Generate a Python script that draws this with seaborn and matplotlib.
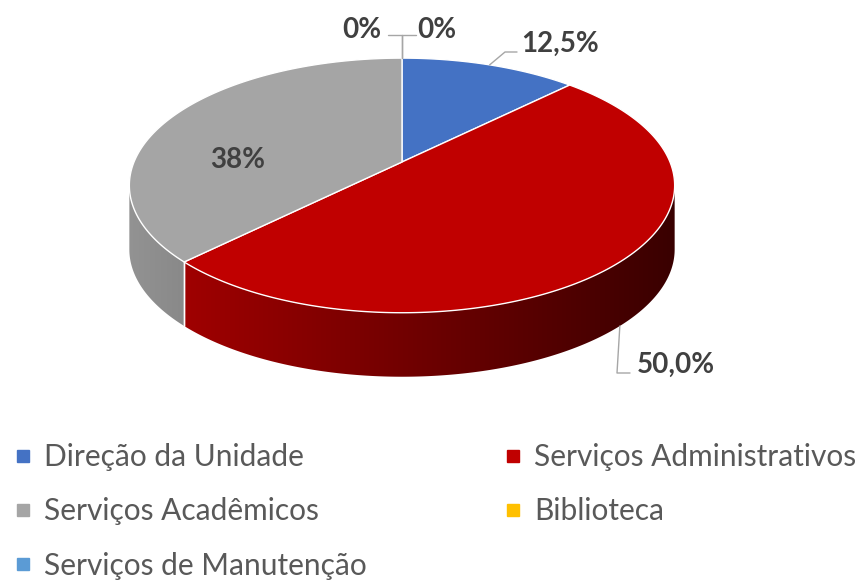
import matplotlib
matplotlib.use("Agg")
import matplotlib.pyplot as plt
import numpy as np
import seaborn as sns
from matplotlib.lines import Line2D
from matplotlib.patches import Polygon

# data
categories = [
    "Direção da Unidade",
    "Serviços Administrativos",
    "Serviços Acadêmicos",
    "Biblioteca",
    "Serviços de Manutenção",
]
shares = [12.5, 50.0, 37.5, 0.0, 0.0]
pct_labels = ["12,5%", "50,0%", "38%", "0%", "0%"]
colors = ["#4472C4", "#C00000", "#A5A5A5", "#FFC000", "#5B9BD5"]

# layout (pixel space of the 868x580 canvas)
CX, CY = 402, 162          # projected pie centre
R, Q, P = 268, 123, 0.184  # horizontal radius, vertical radius, perspective
DEPTH = 64                 # thickness of the 3d pie
LABEL_POS = [(560, 52), (676, 373), (238, 168), (362, 38), (437, 38)]
LEADER_ELBOWS = {
    0: [(505, 52), (517, 52)],
    1: [(617, 373), (630, 373)],
    3: [(402, 35), (388, 35)],
    4: [(402, 35), (416, 35)],
}

sns.set_theme(style="white")
plt.rcParams["font.family"] = ["Lato", "DejaVu Sans"]


def rim(theta, drop=0.0, frac=1.0):
    """Project a point of the pie rim (theta clockwise from 12 o'clock)."""
    t = np.radians(theta)
    X, Z = frac * np.sin(t), frac * np.cos(t)
    w = 1 + P * Z
    return CX + R * X / w, CY - Q * Z / w + drop


def shade(hex_color, x):
    """Darken side faces from left to right, like the Excel bevel."""
    f = np.clip(0.83 - (np.asarray(x) - 184) * 0.00108, 0.3, 1.0)
    rgb = np.array(matplotlib.colors.to_rgb(hex_color))
    return np.outer(np.atleast_1d(f), rgb)


fig = plt.figure(figsize=(8.68, 5.8), dpi=100)
ax = fig.add_axes([0, 0, 1, 1])

total = sum(shares)
ends = 360 * np.cumsum(shares) / total
starts = np.concatenate([[0], ends[:-1]])

# side walls (only the front half of the cylinder is visible)
t_sil = np.degrees(np.arccos(-P))
front = (t_sil, 360 - t_sil)
for a0, a1, val, col in zip(starts, ends, shares, colors):
    lo, hi = max(a0, front[0]), min(a1, front[1])
    if val <= 0 or hi <= lo:
        continue
    th = np.linspace(lo, hi, 200)
    xt, yt = rim(th)
    xb, yb = rim(th[::-1], DEPTH)
    wall = Polygon(np.column_stack([np.r_[xt, xb], np.r_[yt, yb]]),
                   closed=True, facecolor="none", edgecolor="none")
    ax.add_patch(wall)
    x0, x1 = xt.min(), xt.max()
    grad = shade(col, np.linspace(x0, x1, 256))[None, :, :]
    img = ax.imshow(grad, extent=(x0, x1, yb.max() + 1, yt.min() - 1),
                    aspect="auto", interpolation="bilinear", zorder=1)
    img.set_clip_path(wall)
    # white seam where two walls meet
    for edge in (a0, a1):
        if front[0] < edge < front[1]:
            (sx0, sy0), (sx1, sy1) = rim(edge), rim(edge, DEPTH)
            ax.plot([sx0, sx1], [sy0, sy1], color="white", lw=1.0, zorder=2)

# top faces
for a0, a1, val, col in zip(starts, ends, shares, colors):
    if val <= 0:
        continue
    th = np.linspace(a0, a1, max(int((a1 - a0) * 2), 2))
    xs, ys = rim(th)
    pts = [(CX, CY)] + list(zip(xs, ys))
    ax.add_patch(Polygon(pts, closed=True, facecolor=col, edgecolor="white",
                         lw=1.0, zorder=3, joinstyle="round"))

# data labels with leader lines
for i, (a0, a1) in enumerate(zip(starts, ends)):
    mid = (a0 + a1) / 2
    if i in LEADER_ELBOWS:
        drop = DEPTH if front[0] < mid < front[1] else 0.0
        anchor = rim(mid, drop)
        path = [anchor] + LEADER_ELBOWS[i]
        ax.plot([p[0] for p in path], [p[1] for p in path],
                color="#A6A6A6", lw=1.0, zorder=4)
    x, y = LABEL_POS[i]
    ax.text(x, y, pct_labels[i], ha="center", va="baseline", fontsize=20,
            fontweight="bold", color="#404040", zorder=5)

ax.set_xlim(0, 868)
ax.set_ylim(580, 0)
ax.axis("off")

# legend, filled row by row like Excel
order = [0, 2, 4, 1, 3]
handles = [Line2D([], [], marker="s", linestyle="none", markersize=8,
                  markerfacecolor=colors[k], markeredgecolor=colors[k])
           for k in order]
ax.legend(handles, [categories[k] for k in order], ncol=2,
          loc="upper left", bbox_to_anchor=(11, 443),
          bbox_transform=ax.transData, frameon=False, fontsize=21.5,
          labelcolor="#595959", handlelength=0.8, handletextpad=0.3,
          columnspacing=4.5, labelspacing=0.88, borderpad=0,
          borderaxespad=0)

fig.savefig("out.png", dpi=100)
